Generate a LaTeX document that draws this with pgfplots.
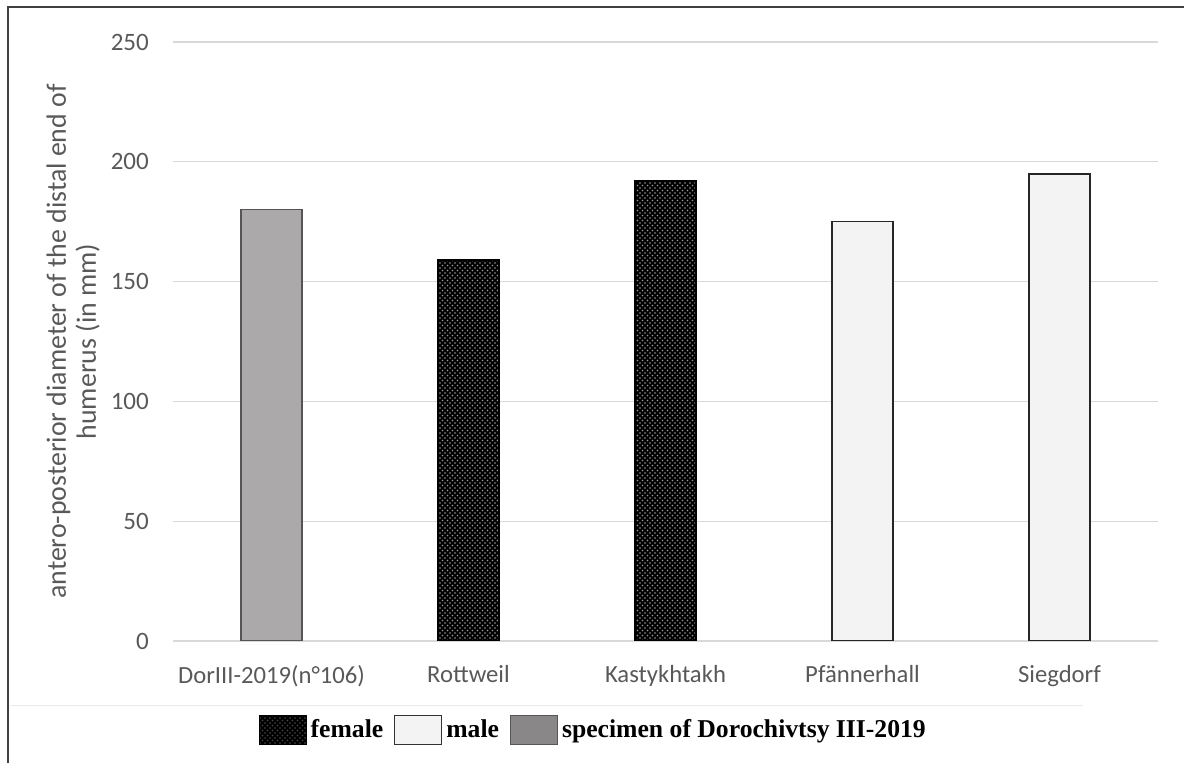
\documentclass[border=0pt]{standalone}
\usepackage{pgfplots}
\pgfplotsset{compat=1.18}
\usepackage{fontspec}
\setmainfont{Carlito}
\newfontfamily\legfont{Liberation Serif}
\usetikzlibrary{patterns}
\definecolor{tickgray}{HTML}{595959}
\definecolor{gridgray}{HTML}{D9D9D9}
\definecolor{specfill}{HTML}{ABA9A9}
\definecolor{specedge}{HTML}{555555}
\definecolor{malefill}{HTML}{F3F3F3}
\begin{document}
\begin{tikzpicture}
\path[use as bounding box] (-103.8pt,-73.2pt) rectangle (606.6pt,384.6pt);
\draw[line width=0.9pt, color=black!75] (-99pt,-73.2pt) -- (-99pt,380.4pt) -- (606.6pt,380.4pt);
\draw[line width=0.6pt, color=black!8] (-97.8pt,-39pt) -- (546pt,-39pt);
\begin{axis}[
  at={(0,0)}, anchor=south west,
  scale only axis, width=591pt, height=359.4pt,
  xmin=-0.5, xmax=4.5, ymin=0, ymax=250,
  ytick={0,50,100,150,200,250},
  xtick={0,1,2,3,4},
  xticklabels={DorIII-2019(n°106),Rottweil,Kastykhtakh,Pfännerhall,Siegdorf},
  axis line style={draw=none},
  tick style={draw=none},
  ymajorgrids, grid style={color=gridgray, line width=0.8pt},
  /pgf/number format/assume math mode=true,
  ticklabel style={color=tickgray},
  xticklabel style={yshift=-7pt, font=\fontsize{14.8}{16}\selectfont},
  yticklabel style={xshift=-11pt, font=\fontsize{15}{16}\selectfont},
  ylabel={antero-posterior diameter of the distal end of\\humerus (in mm)},
  ylabel style={at={(axis description cs:-0.1015,0.5)}, anchor=center, align=center,
     font=\fontsize{16.7}{18}\selectfont, color=tickgray},
  ybar, bar width=36.6pt, bar shift=0pt,
  legend columns=3,
  legend style={at={(axis description cs:0.428,-0.1486)}, anchor=center, draw=none, fill=none,
     font=\legfont\bfseries\fontsize{15.4}{17}\selectfont,
     /tikz/every even column/.append style={column sep=4pt},
     nodes={inner sep=2.5pt}},
  legend image code/.code={\draw[#1] (0pt,-8.7pt) rectangle (28pt,8.7pt);},
]
\addlegendimage{fill=black, draw=black, postaction={pattern=crosshatch dots, pattern color=black!70}}
\addlegendentry{female}
\addlegendimage{fill=malefill, draw=black!80, line width=0.8pt}
\addlegendentry{male}
\addlegendimage{fill=specfill!80!black, draw=specedge, line width=0.8pt}
\addlegendentry{specimen of Dorochivtsy III-2019}
\addplot[forget plot, fill=specfill, draw=specedge, line width=0.8pt] coordinates {(0,180)};
\addplot[forget plot, fill=black, draw=black, line width=0.8pt, postaction={pattern=crosshatch dots, pattern color=gray!80}] coordinates {(1,159) (2,192)};
\addplot[forget plot, fill=malefill, draw=black!85, line width=0.9pt] coordinates {(3,175) (4,195)};
\end{axis}
\end{tikzpicture}
\end{document}
